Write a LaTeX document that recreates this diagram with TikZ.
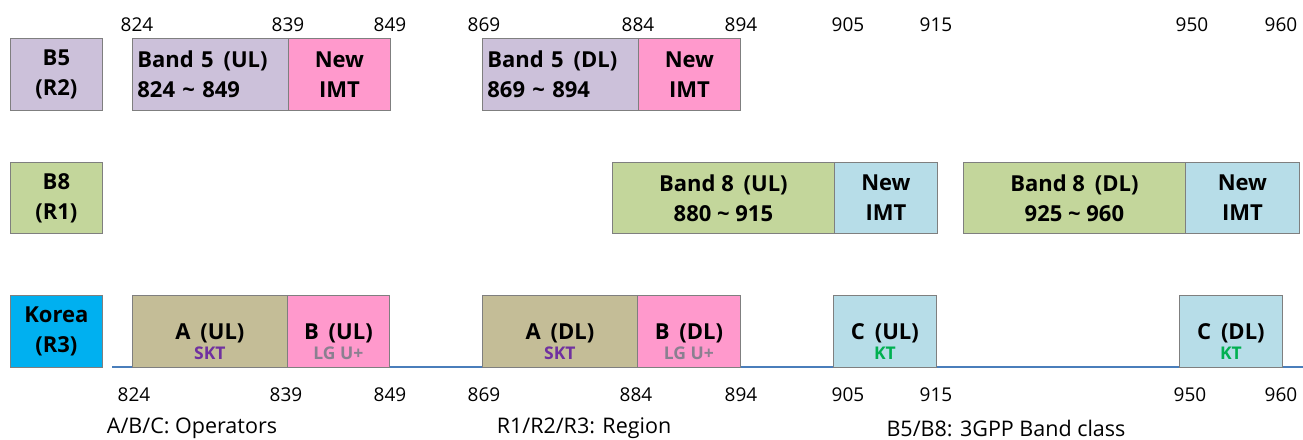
\documentclass[tikz,border=0pt]{standalone}
\usepackage{fontspec}
\setmainfont{Open Sans}
\definecolor{lav}{HTML}{CCC1DA}
\definecolor{pinkc}{HTML}{FF99CC}
\definecolor{greenb}{HTML}{C3D69B}
\definecolor{blueb}{HTML}{B7DDE8}
\definecolor{tanb}{HTML}{C4BD97}
\definecolor{korea}{HTML}{00B0F0}
\definecolor{axis}{HTML}{4A7EBB}
\definecolor{skt}{HTML}{7030A0}
\definecolor{lgu}{HTML}{8A8090}
\definecolor{ktc}{HTML}{00B050}
\definecolor{edge}{HTML}{7F7F7F}
\newcommand{\op}{\bfseries\fontsize{17.5}{17.5}\selectfont}
\tikzset{
  box/.style={draw=edge, line width=0.8pt, inner sep=0pt, anchor=north west,
    font=\bfseries\fontsize{22}{30}\selectfont, align=center},
  lbox/.style={box, align=left, inner xsep=5pt},
  opbox/.style={box, text depth=0pt, font=\bfseries\fontsize{22}{25}\selectfont},
  num/.style={font=\fontsize{19}{19}\selectfont, inner sep=0pt},
  legend/.style={font=\fontsize{21.5}{21.5}\selectfont, inner sep=0pt}
}
\begin{document}
\begin{tikzpicture}[x=1pt,y=-1pt]
\useasboundingbox (0,0) rectangle (1303,439);
% top numbers
\foreach \v/\x in {824/137,839/288,849/390,869/484,884/638,894/741,905/848,915/936,950/1192,960/1281}
  \node[num] (t\v) at (\x,25) {\v};
% row 1
\node[box, fill=lav, minimum width=92pt, minimum height=72pt] (b5) at (10,38) {B5\\(R2)};
\node[lbox, fill=lav, text width=146pt, minimum height=72pt] (b5ul) at (132,38) {Band 5\hspace{0.45em}(UL)\\824 \textasciitilde\ 849};
\node[box, fill=pinkc, minimum width=102pt, minimum height=72pt] (n5ul) at (288,38) {New\\IMT};
\node[lbox, fill=lav, text width=146pt, minimum height=72pt] (b5dl) at (482,38) {Band 5\hspace{0.45em}(DL)\\869 \textasciitilde\ 894};
\node[box, fill=pinkc, minimum width=102pt, minimum height=72pt] (n5dl) at (638,38) {New\\IMT};
% row 2
\node[box, fill=greenb, minimum width=92pt, minimum height=71pt] (b8) at (10,162) {B8\\(R1)};
\node[box, fill=greenb, minimum width=222pt, minimum height=71pt] (b8ul) at (612,162) {Band 8\hspace{0.45em}(UL)\\880 \textasciitilde\ 915};
\node[box, fill=blueb, minimum width=103pt, minimum height=71pt] (n8ul) at (834,162) {New\\IMT};
\node[box, fill=greenb, minimum width=222pt, minimum height=71pt] (b8dl) at (963,162) {Band 8\hspace{0.45em}(DL)\\925 \textasciitilde\ 960};
\node[box, fill=blueb, minimum width=114pt, minimum height=71pt] (n8dl) at (1185,162) {New\\IMT};
% row 3 axis
\coordinate (ax0) at (112,367);
\coordinate (ax1) at (1303,367);
\draw[axis, line width=1.5pt] (ax0) -- (ax1);
\node[box, fill=korea, minimum width=92pt, minimum height=72pt] (kor) at (10,295) {Korea\\(R3)};
\node[opbox, fill=tanb, minimum width=155pt, minimum height=72pt] (aul) at (132,295) {\rule{0pt}{36pt}A\hspace{0.45em}(UL)\\[-5pt]{\op\color{skt}SKT}};
\node[opbox, fill=pinkc, minimum width=102pt, minimum height=72pt] (bul) at (287,295) {\rule{0pt}{36pt}B\hspace{0.45em}(UL)\\[-5pt]{\op\color{lgu}LG U+}};
\node[opbox, fill=tanb, minimum width=155pt, minimum height=72pt] (adl) at (482,295) {\rule{0pt}{36pt}A\hspace{0.45em}(DL)\\[-5pt]{\op\color{skt}SKT}};
\node[opbox, fill=pinkc, minimum width=103pt, minimum height=72pt] (bdl) at (637,295) {\rule{0pt}{36pt}B\hspace{0.45em}(DL)\\[-5pt]{\op\color{lgu}LG U+}};
\node[opbox, fill=blueb, minimum width=103pt, minimum height=72pt] (cul) at (833,295) {\rule{0pt}{36pt}C\hspace{0.45em}(UL)\\[-5pt]{\op\color{ktc}KT}};
\node[opbox, fill=blueb, minimum width=103pt, minimum height=72pt] (cdl) at (1179,295) {\rule{0pt}{36pt}C\hspace{0.45em}(DL)\\[-5pt]{\op\color{ktc}KT}};
% bottom numbers
\foreach \v/\x in {824/134,839/286,849/390,869/484,884/636,894/741,905/848,915/936,950/1190,960/1281}
  \node[num] (u\v) at (\x,395) {\v};
% legend
\node[legend] (lg1) at (192,428) {A/B/C: Operators};
\node[legend] (lg2) at (584,428) {R1/R2/R3: Region};
\node[legend] (lg3) at (1006,428) {B5/B8: 3GPP Band class};
\end{tikzpicture}
\end{document}
